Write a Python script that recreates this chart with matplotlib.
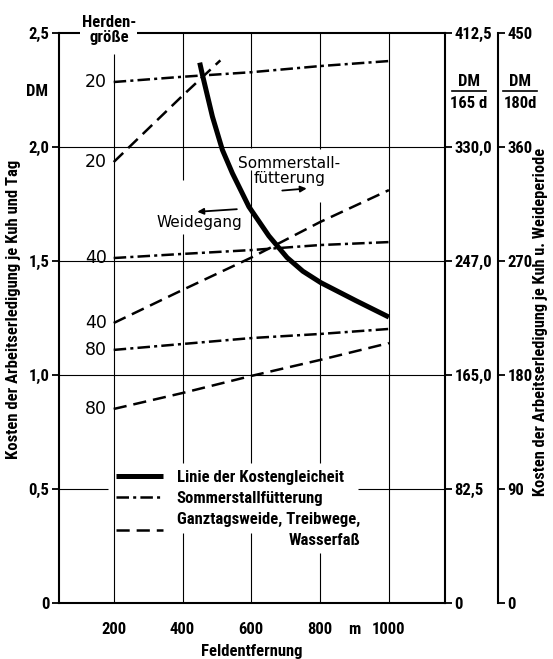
import matplotlib
matplotlib.use("Agg")
import matplotlib.pyplot as plt
from matplotlib.lines import Line2D

plt.rcParams['lines.scale_dashes'] = False
NARROW = ['Roboto Condensed', 'Liberation Sans Narrow', 'Liberation Sans', 'DejaVu Sans']
plt.rcParams['font.family'] = NARROW
plt.rcParams['font.weight'] = 'bold'
plt.rcParams['axes.labelweight'] = 'bold'

# ---------------- data ----------------
distance = [200, 400, 600, 800, 1000]           # Feldentfernung (m)
stall_20 = [2.285, 2.308, 2.328, 2.355, 2.377]  # Sommerstallfütterung, Herde 20
stall_40 = [1.513, 1.531, 1.548, 1.570, 1.583]
stall_80 = [1.110, 1.136, 1.162, 1.180, 1.202]
weide_20_x = [200, 400, 510]
weide_20 = [1.934, 2.225, 2.380]                # Ganztagsweide, Herde 20
weide_40 = [1.228, 1.373, 1.515, 1.671, 1.811]
weide_80 = [0.851, 0.921, 0.996, 1.066, 1.140]
equal_x = [450, 458, 487, 516, 545, 593, 651, 704, 750, 802, 904, 1000]
equal_y = [2.370, 2.316, 2.133, 1.987, 1.885, 1.738, 1.610, 1.515, 1.455, 1.405, 1.326, 1.254]

y_ticks = [0, 0.5, 1.0, 1.5, 2.0, 2.5]
y_labels = ['0', '0,5', '1,0', '1,5', '2,0', '2,5']
r1_ticks = [0, 82.5, 165.0, 247.5, 330.0, 412.5]
r1_labels = ['0', '82,5', '165,0', '247,0', '330,0', '412,5']
r2_ticks = [0, 90, 180, 270, 360, 450]
r2_labels = ['0', '90', '180', '270', '360', '450']
x_labels = ['200', '400', '600', '800', '1000']

# ---------------- figure ----------------
W, H = 553, 659
fig = plt.figure(figsize=(W / 100, H / 100), dpi=100)
ax = fig.add_axes([59 / W, 56 / H, 386 / W, 570 / H])
ax.set_xlim(41, 1163)
ax.set_ylim(0, 2.5)

FS = 12
DASHED = (0, (9.5, 5))
DASHDOT = (0, (9, 3, 2.2, 3))
K = 'black'

l_eq, = ax.plot(equal_x, equal_y, color=K, lw=3.6, solid_capstyle='butt', zorder=5,
                label='Linie der Kostengleicheit')
l_st, = ax.plot(distance, stall_20, color=K, lw=1.8, linestyle=DASHDOT, zorder=4,
                label='Sommerstallfütterung')
ax.plot(distance, stall_40, color=K, lw=1.8, linestyle=DASHDOT, zorder=4)
ax.plot(distance, stall_80, color=K, lw=1.8, linestyle=DASHDOT, zorder=4)
l_we, = ax.plot(weide_20_x, weide_20, color=K, lw=1.8, linestyle=DASHED, zorder=4,
                label='Ganztagsweide, Treibwege,\nWasserfaß')
ax.plot(distance, weide_40, color=K, lw=1.8, linestyle=DASHED, zorder=4)
ax.plot(distance, weide_80, color=K, lw=1.8, linestyle=DASHED, zorder=4)

# herd size labels at line starts
for vals, txt in [(stall_20, '20'), (weide_20, '20'), (stall_40, '40'),
                  (weide_40, '40'), (stall_80, '80'), (weide_80, '80')]:
    ax.annotate(txt, (distance[0], vals[0]), xytext=(-5, 0), textcoords='offset points',
                ha='right', va='center', fontsize=12.5, family='DejaVu Sans',
                fontweight='normal')

# ---------------- grid (with gaps for text) ----------------
GL = 0.8
ax.hlines([1.0, 1.5, 2.0], 41, 1163, color=K, lw=GL, zorder=1)
ax.hlines(0.5, 41, 184, color=K, lw=GL, zorder=1)
ax.hlines(0.5, 911, 1163, color=K, lw=GL, zorder=1)
grid_segments = {
    200: [(0, 2.41)],
    400: [(0, 0.307), (0.614, 1.62), (1.855, 2.5)],
    600: [(0, 0.307), (0.614, 1.90), (1.995, 2.5)],
    800: [(0, 0.219), (0.614, 1.757), (1.99, 2.5)],
    1000: [(0, 2.5)],
}
for xv, segs in grid_segments.items():
    for a, b in segs:
        ax.vlines(xv, a, b, color=K, lw=GL, zorder=1)

# ---------------- axes styling ----------------
for s in ['left', 'bottom', 'top']:
    ax.spines[s].set_linewidth(1.5)
ax.spines['right'].set_visible(False)
ax.set_yticks(y_ticks, labels=y_labels)
ax.set_xticks(distance, labels=x_labels)
ax.set_xticks([900], labels=['m'], minor=True)
ax.tick_params(axis='y', direction='out', length=5, width=1.3, pad=2, labelsize=FS)
ax.tick_params(axis='x', which='both', length=0, pad=14, labelsize=FS)
ax.set_xlabel('Feldentfernung', fontsize=FS, labelpad=5)
ax.set_ylabel('Kosten der Arbeitserledigung je Kuh und Tag', fontsize=FS)
ax.yaxis.set_label_coords(-38 / 386, (603 - 309) / 570)

ax1 = ax.twinx()
ax1.set_ylim(0, 412.5)
ax2 = ax.twinx()
ax2.set_ylim(0, 450)
for a_, ticks, labs in [(ax1, r1_ticks, r1_labels), (ax2, r2_ticks, r2_labels)]:
    for s in ['left', 'bottom', 'top']:
        a_.spines[s].set_visible(False)
    a_.spines['right'].set_linewidth(1.5)
    a_.set_yticks(ticks, labels=labs)
    a_.tick_params(axis='y', direction='out', length=5, width=1.3, pad=2, labelsize=FS)
ax2.spines['right'].set_position(('outward', 53 * 0.72))
ax2.set_ylabel('Kosten der Arbeitserledigung je Kuh u. Weideperiode', fontsize=11.8)
ax2.yaxis.set_label_coords((533 - 59) / 386, (603 - 322) / 570)

# ---------------- legend ----------------
leg = ax.legend(handles=[l_eq, l_st, l_we], loc='upper left',
                bbox_to_anchor=((116 - 59) / 386, (603 - 470) / 570),
                frameon=False, fontsize=FS, handlelength=2.8, handletextpad=0.85,
                borderpad=0, borderaxespad=0, labelspacing=0.35)
leg.get_texts()[2].set_multialignment('right')
leg.get_texts()[2].set_linespacing(1.5)

# ---------------- annotations ----------------
ax.text(186, 2.513, 'Herden-\ngröße', ha='center', va='center', fontsize=FS,
        linespacing=0.95, zorder=6, clip_on=False,
        bbox=dict(facecolor='white', edgecolor='none', pad=1))
ax.text(449, 1.667, 'Weidegang', ha='center', va='center', fontsize=11,
        family='DejaVu Sans', fontweight='normal')
ax.annotate('', xy=(435, 1.715), xytext=(566, 1.728),
            arrowprops=dict(arrowstyle='-|>', color=K, lw=1.3, mutation_scale=9))
ax.text(711, 1.895, 'Sommerstall-\nfütterung', ha='center', va='center', fontsize=11,
        family='DejaVu Sans', fontweight='normal', linespacing=0.95)
ax.annotate('', xy=(769, 1.819), xytext=(682, 1.808),
            arrowprops=dict(arrowstyle='-|>', color=K, lw=1.3, mutation_scale=9))

# left unit
fig.text(37 / W, 1 - 92 / H, 'DM', ha='center', va='center', fontsize=FS)
# right units as fractions
for cx, den in [(469, '165 d'), (520, '180d')]:
    fig.text(cx / W, 1 - 81 / H, 'DM', ha='center', va='center', fontsize=FS)
    fig.text(cx / W, 1 - 104 / H, den, ha='center', va='center', fontsize=FS)
    fig.add_artist(Line2D([(cx - 17) / W, (cx + 17) / W], [1 - 91 / H, 1 - 91 / H],
                          color=K, lw=1.2, transform=fig.transFigure))

fig.savefig('out.png', dpi=100)
